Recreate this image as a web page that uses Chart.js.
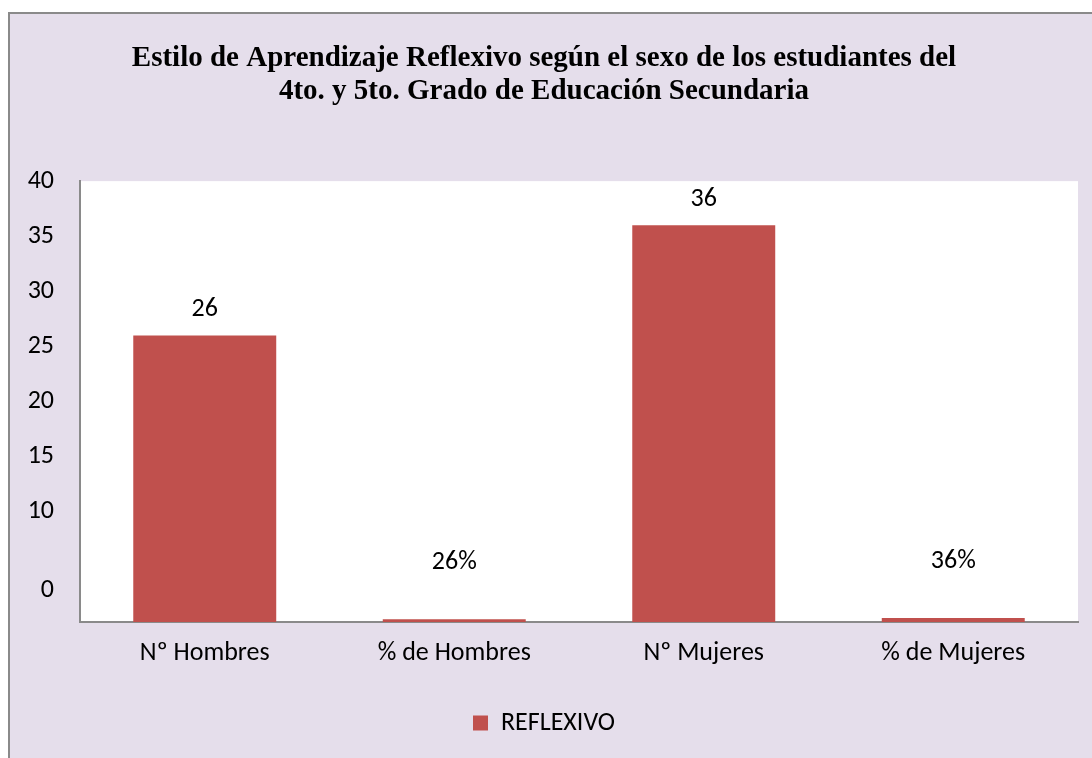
<!DOCTYPE html>
<html>
<head>
<meta charset="utf-8">
<script src="https://cdn.jsdelivr.net/npm/chart.js@4.4.1/dist/chart.umd.min.js"></script>
<style>
  html, body { margin: 0; padding: 0; background: #ffffff; width: 1092px; height: 758px; overflow: hidden; }
  #wrap { position: absolute; left: 8px; top: 12px; width: 1084px; height: 746px;
          border-left: 2px solid #8a8a8a; border-top: 2px solid #8a8a8a; box-sizing: border-box; background: #E5DEEB; }
  #c { display: block; }
</style>
</head>
<body>
<div id="wrap"><canvas id="c" width="1082" height="744"></canvas></div>
<script>
// ---- data ----
const categories = ['Nº Hombres', '% de Hombres', 'Nº Mujeres', '% de Mujeres'];
const seriesName = 'REFLEXIVO';
const values = [26, 0.26, 36, 0.36];
const valueLabels = ['26', '26%', '36', '36%'];
const yTickValues = [2.9, 10, 15, 20, 25, 30, 35, 40];
const yTickLabels = ['0', '10', '15', '20', '25', '30', '35', '40'];
const titleLines = ['Estilo de Aprendizaje Reflexivo según el sexo de los estudiantes del', '4to. y 5to. Grado de Educación Secundaria'];

const BAR = '#C0504D';
const LABEL_FONT = "'Carlito', 'Noto Sans', sans-serif";

const bgPlugin = {
  id: 'bg',
  beforeDraw(chart) {
    const { ctx, chartArea: a } = chart;
    ctx.save();
    ctx.fillStyle = '#E5DEEB';
    ctx.fillRect(0, 0, chart.width, chart.height);
    ctx.fillStyle = '#ffffff';
    ctx.fillRect(a.left, a.top, a.right - a.left, a.bottom - a.top);
    ctx.restore();
  }
};

const valueLabelPlugin = {
  id: 'valueLabels',
  afterDatasetsDraw(chart) {
    const { ctx } = chart;
    const meta = chart.getDatasetMeta(0);
    ctx.save();
    ctx.font = "26px " + LABEL_FONT;
    ctx.fillStyle = '#000';
    ctx.textAlign = 'center';
    ctx.textBaseline = 'middle';
    meta.data.forEach((bar, i) => {
      const isPct = valueLabels[i].indexOf('%') >= 0;
      const off = isPct ? 57 : 26;
      ctx.fillText(valueLabels[i], bar.x, bar.y - off);
    });
    ctx.restore();
  }
};

new Chart(document.getElementById('c'), {
  type: 'bar',
  data: {
    labels: categories,
    datasets: [{
      label: seriesName,
      data: values,
      backgroundColor: BAR,
      borderWidth: 0,
      barPercentage: 0.573,
      categoryPercentage: 1.0
    }]
  },
  options: {
    responsive: false,
    animation: false,
    layout: { padding: { left: 0, right: 14, top: 0, bottom: 12 } },
    plugins: {
      tooltip: { enabled: false },
      title: {
        display: true,
        text: titleLines,
        color: '#000',
        font: { family: "'Liberation Serif', 'Times New Roman', serif", size: 29, weight: 'bold', lineHeight: 1.14 },
        padding: { top: 28, bottom: 73 }
      },
      legend: {
        display: true,
        position: 'bottom',
        labels: {
          color: '#000',
          font: { family: LABEL_FONT, size: 26 },
          boxWidth: 15, boxHeight: 15, padding: 20
        }
      }
    },
    scales: {
      x: {
        grid: { display: false, drawTicks: false },
        border: { display: true, color: '#8a8a8a', width: 2 },
        ticks: { color: '#000', font: { family: LABEL_FONT, size: 26 }, padding: 16, maxRotation: 0 },
        afterFit(s) { s.height = 68; }
      },
      y: {
        min: 0, max: 40,
        grid: { display: false, drawTicks: false },
        border: { display: true, color: '#8a8a8a', width: 2 },
        afterBuildTicks(s) { s.ticks = yTickValues.map(v => ({ value: v })); },
        ticks: {
          color: '#000', font: { family: LABEL_FONT, size: 26 }, padding: 26,
          callback(v) { const i = yTickValues.indexOf(v); return i >= 0 ? yTickLabels[i] : ''; }
        },
        afterFit(s) { s.width = 70; }
      }
    }
  },
  plugins: [bgPlugin, valueLabelPlugin]
});
</script>
</body>
</html>
